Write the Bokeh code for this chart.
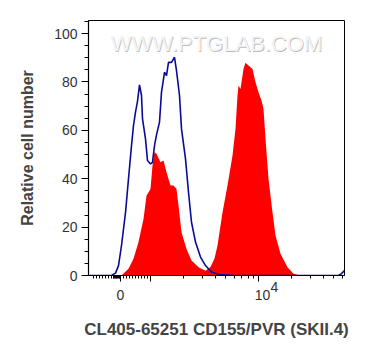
from bokeh.plotting import figure
from bokeh.models import FixedTicker, Range1d, Label, LinearAxis
from bokeh.embed import file_html
from bokeh.resources import INLINE
import math

# channel scale: 0..256 across the plot (biexponential display)
blue_x = [0, 23, 27, 30, 33, 37, 40, 43, 45, 47, 49, 51, 53, 54, 57, 59, 62, 64, 66, 68, 71, 73, 76, 78, 80, 83, 86,
          88, 91, 93, 97, 100, 103, 107, 112, 117, 123, 130, 145, 250, 253, 256]
blue_y = [0, 0, 1.0, 4.1, 12.4, 26, 40, 53.7, 62, 67.5, 72, 78.8, 74.4, 64.7, 56.5, 47.5, 46.1, 46.8, 53.7, 58.1, 63.4,
          75.8, 84, 82.6, 88.1, 88.1, 90.2, 84.7, 74.4, 60.6, 48.2, 34.4, 22, 13.8, 7.6, 4.1, 1.4, 0.4, 0, 0, 0.8, 2]

red_x = [33, 40, 45, 50, 55, 58, 62, 64, 66, 68, 72, 75, 78, 82, 85, 88, 90, 93, 98, 103, 110, 117, 122, 126,
         129, 134, 139, 144, 147, 149, 150, 152, 155, 157, 160, 164, 167, 170, 173, 175, 177, 180, 184, 187,
         192, 199, 205, 212]
red_y = [0, 2.8, 6.9, 13.8, 23.4, 33, 35.8, 45.5, 51, 50.3, 46.8, 47.5, 42.7, 37.2, 37.2, 35.8, 28.9, 17.9, 11,
         6.2, 3.4, 2, 3.5, 7, 12.4, 26, 37.2, 49.6, 60.6, 74.4, 78.5, 77.1, 85.4, 87.9, 86.8, 85.4, 79.9, 75.7,
         72.3, 68.9, 56.5, 40, 26, 16.5, 9, 3.4, 0.7, 0]

# axis ticks (channel positions of 0, 10^3, 10^4 on the biex scale)
x_major = [32, 62, 170]
x_minor_lin = [-900, -800, -700, -600, -500, -400, -300, -250, -225, -200, -175, -150, -125, -100, -75, -50, -25,
               100, 200, 300, 400, 500, 600, 700, 800, 900]
x_minor_log = [2, 3, 4, 5, 6, 7, 8, 9]
x_label_pos = [32, 174]
x_label_text = ["0", "10"]
x_sup_pos = [186]
x_sup_text = ["4"]
y_major = [0, 20, 40, 60, 80, 100]

minor = [32 + v / 1000 * 30 for v in x_minor_lin]
minor += [62 + 108 * math.log10(k) for k in x_minor_log]
minor += [170 + 108 * math.log10(k) for k in x_minor_log if 170 + 108 * math.log10(k) <= 256]

p = figure(width=372, height=356, output_backend="svg", toolbar_location=None,
           x_range=Range1d(0, 256), y_range=Range1d(0, 105.4),
           min_border_left=88, min_border_right=28, min_border_top=20, min_border_bottom=81)
p.background_fill_color = "white"
p.border_fill_color = "white"
p.outline_line_color = "black"
p.outline_line_width = 1
p.grid.visible = False

FONT = "Liberation Sans"

# watermark
p.add_layout(Label(x=128.8, y=95.6, text="WWW.PTGLAB.COM", text_font=FONT,
                   text_font_size="22px", text_color="#bdbdbd", text_align="center",
                   text_baseline="middle", level="underlay"))
p.add_layout(Label(x=128, y=96, text="WWW.PTGLAB.COM", text_font=FONT,
                   text_font_size="22px", text_color="#f4f4f4", text_align="center",
                   text_baseline="middle", level="underlay"))

p.varea(x=red_x, y1=0, y2=red_y, fill_color="#ff0000")
p.line(x=blue_x, y=blue_y, line_color="#0a0a9a", line_width=1.6)

# axis A: line and ticks only
xa = p.xaxis[0]
xa.ticker = FixedTicker(ticks=x_major, minor_ticks=minor)
xa.major_label_overrides = {t: "" for t in x_major}
xa.major_label_text_font_size = "0px"
xa.major_label_standoff = 0
xa.major_tick_out = 6
xa.major_tick_in = 0
xa.minor_tick_out = 3
xa.minor_tick_in = 0
xa.axis_line_width = 1.2

# axis B: superscript of 10^4
xb = LinearAxis(ticker=FixedTicker(ticks=x_sup_pos),
                major_label_overrides={t: s for t, s in zip(x_sup_pos, x_sup_text)},
                axis_line_color=None, major_tick_line_color=None, minor_tick_line_color=None,
                major_tick_out=0, major_tick_in=0, minor_tick_out=0, minor_tick_in=0,
                major_label_standoff=0, major_label_text_font=FONT,
                major_label_text_font_size="14px", major_label_text_color="#333333")
p.add_layout(xb, "below")

# axis C: tick labels and title
xc = LinearAxis(ticker=FixedTicker(ticks=x_label_pos),
                major_label_overrides={t: s for t, s in zip(x_label_pos, x_label_text)},
                axis_line_color=None, major_tick_line_color=None, minor_tick_line_color=None,
                major_tick_out=0, major_tick_in=0, minor_tick_out=0, minor_tick_in=0,
                major_label_standoff=-5, major_label_text_font=FONT,
                major_label_text_font_size="14px", major_label_text_color="#333333",
                axis_label="CL405-65251 CD155/PVR (SKII.4)", axis_label_text_font=FONT,
                axis_label_text_font_style="bold", axis_label_text_font_size="17px",
                axis_label_standoff=17)
p.add_layout(xc, "below")

ya = p.yaxis[0]
ya.ticker = FixedTicker(ticks=y_major, minor_ticks=[v for v in range(0, 106, 5) if v % 20])
ya.major_tick_out = 7
ya.major_tick_in = 0
ya.minor_tick_out = 4
ya.minor_tick_in = 0
ya.major_label_standoff = 4
ya.major_label_text_font = FONT
ya.major_label_text_font_size = "14px"
ya.major_label_text_color = "#333333"
ya.axis_label = "Relative cell number"
ya.axis_label_text_font = FONT
ya.axis_label_text_font_style = "bold"
ya.axis_label_text_font_size = "16px"
ya.axis_label_standoff = 15
ya.axis_line_width = 1.2

open("out.html", "w").write(file_html(p, INLINE))
